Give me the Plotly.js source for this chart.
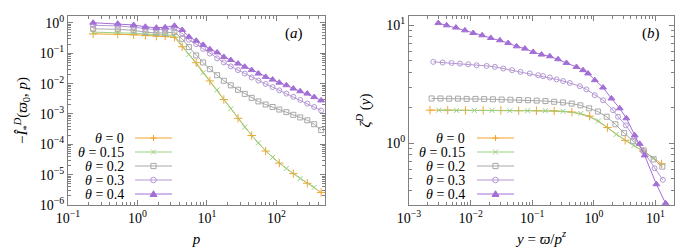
<!DOCTYPE html>
<html>
<head>
<meta charset="utf-8">
<script src="https://cdn.plot.ly/plotly-3.0.1.min.js"></script>
<style>
html,body{margin:0;padding:0;background:#fff;}
#chart{width:700px;height:250px;}
#chart svg text{font-family:"Liberation Serif","Times New Roman",serif !important;}
</style>
</head>
<body>
<div id="chart"></div>
<script>
// ---------- Panel (a): -I_*^D(varpi_0, p) vs p ----------
const pGrid = [0.23, 0.52, 0.88, 1.3, 1.87, 2.5, 3.4, 4.4, 5.5, 7.0, 8.8, 11, 14, 17.5, 22, 28, 35, 44, 55, 70, 88, 110, 139, 175, 220, 278, 349, 440];
const pTheta0 = [0.23, 0.52, 0.88, 1.3, 1.87, 2.5, 3.4, 4.4, 7.0, 11, 17.5, 28, 44, 70, 110, 175, 278, 440];
const pTheta015 = [0.23, 0.52, 0.88, 1.3, 1.87, 2.5, 3.4, 5.5, 8.8, 14, 22, 35, 55, 88, 139, 220, 349];

const aTheta0 = [0.44, 0.43, 0.41, 0.39, 0.37, 0.37, 0.34, 0.165, 0.049, 0.0123, 0.003, 7.2e-4, 1.95e-4, 6.0e-5, 2.4e-5, 1.08e-5, 5.2e-6, 2.6e-6];
const aTheta015 = [0.50, 0.49, 0.46, 0.43, 0.41, 0.41, 0.39, 0.092, 0.023, 0.0062, 0.0015, 3.7e-4, 1.1e-4, 3.7e-5, 1.6e-5, 7.5e-6, 3.8e-6];
const aTheta02 = [0.64, 0.62, 0.57, 0.50, 0.47, 0.47, 0.50, 0.30, 0.16, 0.085, 0.05, 0.03, 0.019, 0.0125, 0.0088, 0.0063, 0.0046, 0.0034, 0.0026, 0.00205, 0.0017, 0.0014, 0.00115, 9.4e-4, 7.7e-4, 6.2e-4, 4.6e-4, 2.95e-4];
const aTheta03 = [0.84, 0.80, 0.72, 0.64, 0.60, 0.61, 0.66, 0.45, 0.28, 0.20, 0.14, 0.098, 0.068, 0.050, 0.037, 0.028, 0.0215, 0.016, 0.0126, 0.0098, 0.0077, 0.006, 0.0047, 0.0037, 0.0029, 0.0022, 0.0017, 0.0013];
const aTheta04 = [1.02, 0.95, 0.86, 0.75, 0.70, 0.72, 0.81, 0.59, 0.35, 0.26, 0.19, 0.137, 0.107, 0.076, 0.060, 0.046, 0.036, 0.028, 0.0215, 0.0167, 0.0136, 0.0108, 0.0089, 0.0069, 0.0056, 0.0047, 0.0036, 0.0028];

// ---------- Panel (b): zeta^D(y) vs y ----------
const yTheta0 = [0.00219, 0.00425, 0.00824, 0.0160, 0.0310, 0.0603, 0.117, 0.227, 0.441, 0.855, 1.66, 3.22, 6.31, 12.6];
const zTheta0 = [1.91, 1.91, 1.90, 1.90, 1.90, 1.89, 1.89, 1.88, 1.84, 1.70, 1.36, 1.06, 0.86, 0.67];
const yTheta015 = [0.00305, 0.00592, 0.01148, 0.0223, 0.0433, 0.0839, 0.163, 0.316, 0.614, 1.19, 2.31, 4.49, 9.33];
const zTheta015 = [1.91, 1.90, 1.90, 1.90, 1.89, 1.89, 1.89, 1.87, 1.79, 1.55, 1.19, 0.96, 0.75];
const yTheta02 = [0.00233, 0.00324, 0.00449, 0.00622, 0.00863, 0.01197, 0.0166, 0.0230, 0.0319, 0.0443, 0.0614, 0.0851, 0.118, 0.164, 0.227, 0.315, 0.437, 0.605, 0.839, 1.164, 1.614, 2.239, 3.105, 4.305, 6.457, 9.354, 12.94];
const zTheta02 = [2.40, 2.40, 2.39, 2.39, 2.38, 2.38, 2.37, 2.36, 2.35, 2.34, 2.33, 2.32, 2.30, 2.28, 2.25, 2.22, 2.17, 2.10, 1.98, 1.86, 1.68, 1.45, 1.22, 1.05, 0.87, 0.73, 0.634];
const yTheta03 = [0.00248, 0.00352, 0.00492, 0.00671, 0.00914, 0.0125, 0.0182, 0.0248, 0.0339, 0.0472, 0.0646, 0.0912, 0.125, 0.150, 0.193, 0.248, 0.317, 0.407, 0.592, 0.759, 1.035, 1.41, 2.05, 2.47, 3.31, 4.57, 6.31, 9.7, 13.2];
const zTheta03 = [4.90, 4.84, 4.80, 4.74, 4.68, 4.59, 4.53, 4.45, 4.31, 4.17, 4.03, 3.91, 3.78, 3.71, 3.61, 3.48, 3.37, 3.25, 3.05, 2.86, 2.56, 2.32, 1.91, 1.68, 1.42, 1.12, 0.86, 0.615, 0.49];
const yTheta04 = [0.00299, 0.00408, 0.00578, 0.00809, 0.0110, 0.0154, 0.0213, 0.0299, 0.0407, 0.0557, 0.0760, 0.1035, 0.1416, 0.193, 0.263, 0.360, 0.522, 0.668, 0.805, 1.035, 1.41, 1.93, 2.63, 3.37, 4.60, 5.55, 6.68, 10.35, 14.6];
const zTheta04 = [10.45, 10.0, 9.57, 9.07, 8.61, 8.23, 7.81, 7.47, 7.08, 6.64, 6.35, 5.95, 5.65, 5.47, 5.16, 4.80, 4.44, 4.17, 3.91, 3.43, 2.97, 2.40, 1.98, 1.63, 1.17, 0.99, 0.79, 0.45, 0.31];

// ---------- Labels ----------
const seriesNames = ['<i>θ</i> = 0', '<i>θ</i> = 0.15', '<i>θ</i> = 0.2', '<i>θ</i> = 0.3', '<i>θ</i> = 0.4'];
const xTickValsA = [0.1, 1, 10, 100];
const xTickTextA = ['10<sup>−1</sup>', '10<sup>0</sup>', '10<sup>1</sup>', '10<sup>2</sup>'];
const yTickValsA = [1e-6, 1e-5, 1e-4, 1e-3, 1e-2, 1e-1, 1];
const yTickTextA = ['10<sup>−6</sup>', '10<sup>−5</sup>', '10<sup>−4</sup>', '10<sup>−3</sup>', '10<sup>−2</sup>', '10<sup>−1</sup>', '10<sup>0</sup>'];
const xTickValsB = [1e-3, 1e-2, 1e-1, 1, 10];
const xTickTextB = ['10<sup>−3</sup>', '10<sup>−2</sup>', '10<sup>−1</sup>', '10<sup>0</sup>', '10<sup>1</sup>'];
const yTickValsB = [1, 10];
const yTickTextB = ['10<sup>0</sup>', '10<sup>1</sup>'];

// ---------- Styles ----------
const colors = ['#f2a32c', '#98d184', '#a8a8a8', '#b498d4', '#a36fd6'];
const symbols = ['cross-thin-open', 'x-thin-open', 'square-open', 'circle-open', 'triangle-up'];
const msize = [6, 5, 5, 5, 6];
const FONT = 'Liberation Serif';
const AX = '#808080';

const dataA = [[pTheta0, aTheta0], [pTheta015, aTheta015], [pGrid, aTheta02], [pGrid, aTheta03], [pGrid, aTheta04]];
const dataB = [[yTheta0, zTheta0], [yTheta015, zTheta015], [yTheta02, zTheta02], [yTheta03, zTheta03], [yTheta04, zTheta04]];

function mk(xy, i, xa, ya) {
  return {
    x: xy[0], y: xy[1], type: 'scatter', mode: 'lines+markers', xaxis: xa, yaxis: ya,
    showlegend: false, name: seriesNames[i],
    line: {color: colors[i], width: 1},
    marker: {symbol: symbols[i], size: msize[i], color: colors[i], line: {color: colors[i], width: 1}}
  };
}
const traces = [];
dataA.forEach((d, i) => traces.push(mk(d, i, 'x', 'y')));
dataB.forEach((d, i) => traces.push(mk(d, i, 'x2', 'y2')));

function minorVals(d0, d1) {
  const v = [];
  for (let d = d0; d <= d1; d++) for (let k = 2; k <= 9; k++) v.push(k * Math.pow(10, d));
  return v;
}
function axisStyle(extra) {
  return Object.assign({
    type: 'log', showline: true, linecolor: AX, linewidth: 1, mirror: 'allticks',
    ticks: 'inside', ticklen: 5, tickcolor: AX, tickwidth: 1, showgrid: false, zeroline: false,
    tickmode: 'array', tickfont: {family: FONT, size: 14, color: '#000'}
  }, extra);
}

const W = 700, H = 250;
const px = v => v / W, py = v => 1 - v / H;

const legendRows = [138, 152, 166, 180, 194];
const legendPanels = [{textRight: 126, l0: 135, l1: 172}, {textRight: 467, l0: 477, l1: 514}];
const annotations = [];
const shapes = [];
legendPanels.forEach(lp => {
  seriesNames.forEach((nm, i) => {
    const cy = legendRows[i];
    annotations.push({xref: 'paper', yref: 'paper', x: px(lp.textRight), y: py(cy), xanchor: 'right', yanchor: 'middle',
      text: nm, showarrow: false, font: {family: FONT, size: 14, color: '#000'}});
    shapes.push({type: 'line', xref: 'paper', yref: 'paper', x0: px(lp.l0), x1: px(lp.l1), y0: py(cy), y1: py(cy),
      line: {color: colors[i], width: 1}});
    const cx = (lp.l0 + lp.l1) / 2, r = 3;
    const st = {xref: 'paper', yref: 'paper', line: {color: colors[i], width: 1}};
    if (i === 0) shapes.push(Object.assign({type: 'path', path: `M${px(cx - r)},${py(cy)} L${px(cx + r)},${py(cy)} M${px(cx)},${py(cy - r)} L${px(cx)},${py(cy + r)}`}, st));
    if (i === 1) shapes.push(Object.assign({type: 'path', path: `M${px(cx - 2.5)},${py(cy - 2.5)} L${px(cx + 2.5)},${py(cy + 2.5)} M${px(cx - 2.5)},${py(cy + 2.5)} L${px(cx + 2.5)},${py(cy - 2.5)}`}, st));
    if (i === 2) shapes.push(Object.assign({type: 'rect', x0: px(cx - 2.6), x1: px(cx + 2.6), y0: py(cy - 2.6), y1: py(cy + 2.6)}, st));
    if (i === 3) shapes.push(Object.assign({type: 'circle', x0: px(cx - 2.8), x1: px(cx + 2.8), y0: py(cy - 2.8), y1: py(cy + 2.8)}, st));
    if (i === 4) shapes.push(Object.assign({type: 'path', fillcolor: colors[i], path: `M${px(cx)},${py(cy - 3.3)} L${px(cx + 3.5)},${py(cy + 2.5)} L${px(cx - 3.5)},${py(cy + 2.5)} Z`}, st));
  });
});
annotations.push({xref: 'paper', yref: 'paper', x: px(294), y: py(33), xanchor: 'center', yanchor: 'middle',
  text: '(<i>a</i>)', showarrow: false, font: {family: FONT, size: 15, color: '#000'}});
annotations.push({xref: 'paper', yref: 'paper', x: px(651), y: py(33), xanchor: 'center', yanchor: 'middle',
  text: '(<i>b</i>)', showarrow: false, font: {family: FONT, size: 15, color: '#000'}});

const titleFont = {family: FONT, size: 15, color: '#000'};
const layout = {
  width: W, height: H, margin: {l: 0, r: 0, t: 0, b: 0},
  paper_bgcolor: '#fff', plot_bgcolor: '#fff', showlegend: false,
  font: {family: FONT},
  xaxis: axisStyle({domain: [px(68), px(325)], anchor: 'y', range: [-1, Math.log10(500)],
    tickvals: xTickValsA, ticktext: xTickTextA, minor: {ticks: 'inside', ticklen: 3, tickcolor: AX, tickmode: 'array', tickvals: minorVals(-1, 2)},
    title: {text: '<i>p</i>', font: titleFont, standoff: 8}}),
  yaxis: axisStyle({domain: [py(205), py(16)], anchor: 'x', range: [-6, 0.23],
    tickvals: yTickValsA, ticktext: yTickTextA, minor: {ticks: 'inside', ticklen: 3, tickcolor: AX, tickmode: 'array', tickvals: minorVals(-6, 0)},
    title: {text: '−<i>Î</i><sub>*</sub><sup><i>D</i></sup>(<i>ϖ</i><sub>0</sub>, <i>p</i>)', font: titleFont, standoff: 8}}),
  xaxis2: axisStyle({domain: [px(409), px(674)], anchor: 'y2', range: [-3, 1.301],
    tickvals: xTickValsB, ticktext: xTickTextB, minor: {ticks: 'inside', ticklen: 3, tickcolor: AX, tickmode: 'array', tickvals: minorVals(-3, 1)},
    title: {text: '<i>y</i> = <i>ϖ</i>/<i>p</i><sup><i>z</i></sup>', font: titleFont, standoff: 8}}),
  yaxis2: axisStyle({domain: [py(205), py(16)], anchor: 'x2', range: [Math.log10(0.3), Math.log10(12)],
    tickvals: yTickValsB, ticktext: yTickTextB, minor: {ticks: 'inside', ticklen: 3, tickcolor: AX, tickmode: 'array', tickvals: minorVals(-1, 1)},
    title: {text: '<i>ζ</i><sup><i>D</i></sup> (<i>y</i>)', font: titleFont, standoff: 12}}),
  annotations: annotations,
  shapes: shapes
};

Plotly.newPlot('chart', traces, layout, {staticPlot: true, displayModeBar: false});
</script>
</body>
</html>
